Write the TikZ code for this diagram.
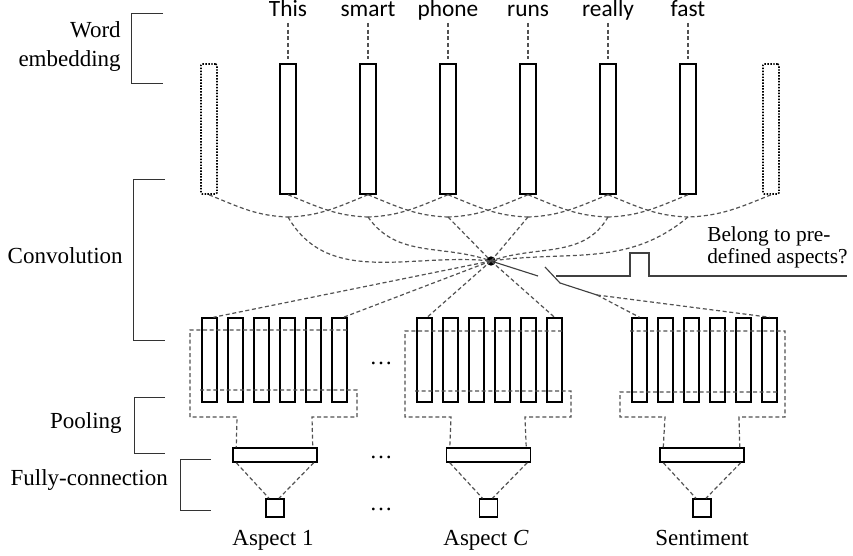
\documentclass[tikz,border=0pt]{standalone}
\usepackage{fontspec}
\setmainfont{Liberation Serif}
\newfontfamily\wordfont{Carlito}
\begin{document}
\begin{tikzpicture}[x=0.75pt,y=-0.75pt,
  wbox/.style={draw, line width=1.1pt, minimum width=12pt, minimum height=97.5pt, inner sep=0},
  dbox/.style={draw, line width=1.2pt, dash pattern=on 1.1pt off 1.1pt, rounded corners=1pt, minimum width=12pt, minimum height=97.5pt, inner sep=0},
  cbox/.style={draw, line width=1.1pt, minimum width=11.25pt, minimum height=63pt, inner sep=0},
  fcbox/.style={draw, line width=1.1pt, minimum width=63pt, minimum height=10.5pt, inner sep=0},
  obox/.style={draw, line width=1.1pt, minimum size=13.5pt, inner sep=0},
  dsh/.style={draw=black!68, line width=0.9pt, dash pattern=on 3pt off 2pt},
  sol/.style={draw=black!75, line width=0.85pt},
  brk/.style={draw=black!80, line width=0.7pt},
  lbl/.style={font=\fontsize{17.25}{21.75}\selectfont, inner sep=0},
  wlbl/.style={font=\wordfont\fontsize{17.5}{21}\selectfont, inner sep=0}]
\useasboundingbox (0,0) rectangle (853,556);

% left brackets and labels
\draw[brk] (163,13) -- (131,13) -- (131,83) -- (163,83);
\draw[brk] (165,179) -- (133,179) -- (133,340) -- (165,340);
\draw[brk] (165,397) -- (134,397) -- (134,453) -- (165,453);
\draw[brk] (211,459) -- (180,459) -- (180,510) -- (211,510);
\node[lbl, anchor=east, align=right] (lwe) at (121,47) {Word\\embedding};
\node[lbl, anchor=base east] (lconv) at (123,263) {Convolution};
\node[lbl, anchor=base east] (lpool) at (122,428) {Pooling};
\node[lbl, anchor=base east] (lfc) at (168,485) {Fully-connection};

% word embeddings
\node[dbox] (w0) at (209,129) {};
\node[dbox] (w7) at (771,129) {};
\foreach \i/\x/\t in {1/288/This,2/368/smart,3/448/phone,4/528/runs,5/608/really,6/688/fast}{
  \node[wbox] (w\i) at (\x,129) {};
  \node[wlbl, anchor=base] (t\i) at (\x,17) {\t};
  \draw[dsh] ([yshift=-4.5pt]t\i.base) -- ([yshift=3pt]w\i.north);
  \coordinate (p\i) at (\x,217);
}

% convolution windows
\foreach \i in {1,...,6}{
  \pgfmathtruncatemacro\a{\i-1}
  \pgfmathtruncatemacro\b{\i+1}
  \draw[dsh] (w\a.south) to[out=-22,in=178] (p\i);
  \draw[dsh] (w\b.south) to[out=-158,in=2] (p\i);
}
\node[circle, fill, inner sep=0, minimum size=7pt] (dot) at (491,261) {};
\draw[dsh] (p1) to[out=-60,in=174] (dot.center);
\draw[dsh] (p2) to[out=-55,in=160] (dot.center);
\draw[dsh] (p3) -- (dot.center);
\draw[dsh] (p4) -- (dot.center);
\draw[dsh] (p5) to[out=-120,in=20] (dot.center);
\draw[dsh] (p6) to[out=-140,in=8] (dot.center);

% feature maps
\foreach \g/\gx in {1/209.5,2/424.5,3/639.5}{
  \foreach \k in {0,...,5}{
    \node[cbox] (c\g\k) at ({\gx+26*\k},360) {};
  }
}
\draw[dsh] (dot.center) -- ([xshift=3pt]c10.north);
\draw[dsh] (dot.center) -- ([xshift=3pt]c15.north);
\draw[dsh] (dot.center) -- ([xshift=2pt]c20.north);
\draw[dsh] (dot.center) -- (c25.north);

% switch
\coordinate (sw1) at (538,276);
\coordinate (lev1) at (545,267);
\coordinate (lev2) at (560,283);
\coordinate (sw3) at (597,295);
\coordinate (ctl) at (556,276);
\coordinate (ctlend) at (847,276);
\draw[sol] (dot.center) -- (sw1);
\draw[sol] (lev1) -- (lev2) -- (sw3);
\draw[dsh] (sw3) -- (c30.north);
\draw[dsh] (sw3) -- (c35.north);
\draw[sol] (ctl) -- (630,276) -- (630,253) -- (649,253) -- (649,276) -- (ctlend);
\node[lbl, anchor=west, align=left, font=\fontsize{16}{16.5}\selectfont] (bel) at (707,247) {Belong to pre-\\defined aspects?};

% fully connected and outputs
\foreach \i/\x in {1/275,2/488.5,3/702}{
  \node[fcbox] (fc\i) at (\x,455) {};
  \node[obox] (o\i) at (\x,508) {};
  \draw[dsh] ([xshift=3pt]fc\i.south west) -- ([xshift=-4.5pt]o\i.north);
  \draw[dsh] ([xshift=-3pt]fc\i.south east) -- ([xshift=3pt]o\i.north);
}

% pooling outlines
\draw[dsh] (347,330) -- (190,330) -- (190,417) -- (237,417) -- ([xshift=3pt]fc1.north west);
\draw[dsh] (200,390) -- (357,390) -- (357,417) -- (312,417) -- ([xshift=-3.75pt]fc1.north east);
\draw[dsh] (562,331) -- (405,331) -- (405,417) -- (451,417) -- ([xshift=3pt]fc2.north west);
\draw[dsh] (415,391) -- (571,391) -- (571,417) -- (525,417) -- ([xshift=-3.75pt]fc2.north east);
\draw[dsh] (630,331) -- (785,331) -- (785,417) -- (739,417) -- ([xshift=-3.75pt]fc3.north east);
\draw[dsh] (777,392) -- (620,392) -- (620,417) -- (665,417) -- ([xshift=3pt]fc3.north west);

% ellipses
\node[lbl, anchor=base] (e1) at (381,364) {\textellipsis};
\node[lbl, anchor=base] (e2) at (381,458) {\textellipsis};
\node[lbl, anchor=base] (e3) at (381,510) {\textellipsis};

% output labels
\node[lbl, anchor=base] (a1) at (273,545) {Aspect 1};
\node[lbl, anchor=base] (ac) at (486,545) {Aspect \textit{C}};
\node[lbl, anchor=base] (se) at (702,545) {Sentiment};
\end{tikzpicture}
\end{document}
